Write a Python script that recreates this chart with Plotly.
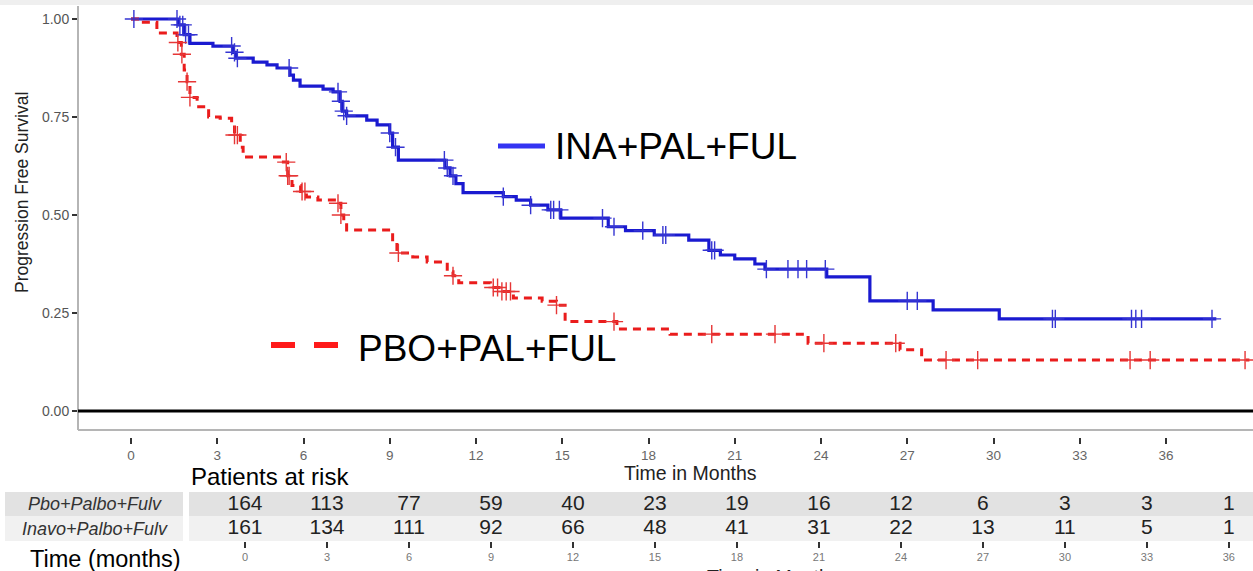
import numpy as np
import plotly.graph_objects as go

W, H = 1253, 571

# ---------------- data ----------------
ina_t = [0, 1.65, 1.85, 2.05, 2.85, 3.55, 3.65, 4.25, 4.73, 5.08, 5.53, 5.65, 5.88, 6.68, 7.03,
         7.27, 7.35, 7.5, 8.2, 8.56, 9.0, 9.1, 9.3, 10.92, 11.1, 11.3, 11.55, 12.95, 13.4, 13.9,
         14.5, 14.95, 16.6, 17.2, 18.2, 19.4, 20.1, 20.5, 21.0, 21.7, 22.05, 24.2, 25.7, 27.9,
         30.2, 37.75]
ina_s = [1.0, 0.985, 0.96, 0.938, 0.931, 0.915, 0.90, 0.89, 0.883, 0.875, 0.857, 0.844, 0.829,
         0.821, 0.814, 0.79, 0.765, 0.753, 0.742, 0.73, 0.709, 0.673, 0.64, 0.62, 0.60, 0.58,
         0.557, 0.547, 0.538, 0.525, 0.513, 0.492, 0.470, 0.46, 0.449, 0.436, 0.41, 0.398, 0.388,
         0.375, 0.362, 0.342, 0.281, 0.258, 0.235, 0.235]
ina_cens = [0.1, 1.6, 1.7, 1.8, 1.9, 2.0, 3.5, 3.6, 3.7, 5.5, 7.2, 7.3, 7.4, 7.5, 9.0, 9.2, 10.9,
            11.0, 11.2, 12.95, 13.9, 14.6, 14.7, 14.9, 16.4, 16.8, 17.8, 18.5, 18.6, 20.2, 20.3,
            22.1, 22.85, 23.2, 23.5, 24.15, 27.0, 27.35, 32.05, 32.15, 34.8, 34.95, 35.15, 37.6]

pbo_t = [0, 0.35, 0.9, 1.6, 1.75, 1.85, 1.95, 2.05, 2.3, 2.7, 3.1, 3.5, 3.6, 3.8, 3.9, 5.3, 5.45,
         5.6, 5.9, 6.1, 6.5, 7.2, 7.3, 7.4, 7.5, 9.1, 9.25, 9.8, 10.3, 11.0, 11.2, 11.4, 12.5,
         12.9, 13.3, 14.3, 14.8, 15.1, 16.9, 18.75, 23.55, 26.75, 27.5, 38.9]
pbo_s = [1.0, 0.992, 0.964, 0.94, 0.91, 0.87, 0.84, 0.80, 0.776, 0.75, 0.747, 0.73, 0.704, 0.673,
         0.648, 0.635, 0.60, 0.575, 0.56, 0.546, 0.538, 0.53, 0.50, 0.48, 0.462, 0.43, 0.403,
         0.393, 0.38, 0.355, 0.345, 0.327, 0.315, 0.305, 0.288, 0.28, 0.27, 0.228, 0.209, 0.196,
         0.173, 0.156, 0.13, 0.13]
pbo_cens = [1.63, 1.77, 1.95, 2.05, 3.6, 3.7, 5.4, 5.45, 5.5, 5.95, 6.05, 7.2, 7.3, 9.3, 11.2,
            12.6, 12.75, 12.9, 13.05, 13.2, 14.8, 16.8, 20.2, 22.4, 24.1, 26.6, 28.35, 29.45,
            34.75, 35.45, 38.75]

risk_times = [0, 3, 6, 9, 12, 15, 18, 21, 24, 27, 30, 33, 36]
risk_pbo = [164, 113, 77, 59, 40, 23, 19, 16, 12, 6, 3, 3, 1]
risk_ina = [161, 134, 111, 92, 66, 48, 41, 31, 22, 13, 11, 5, 1]
risk_labels = ["Pbo+Palbo+Fulv", "Inavo+Palbo+Fulv"]

x_ticks = list(range(0, 37, 3))
y_ticks = [0, 0.25, 0.5, 0.75, 1.0]
y_ticktext = ["0.00", "0.25", "0.50", "0.75", "1.00"]


def step_at(ts, ss, t):
    i = int(np.searchsorted(np.array(ts), t, side="right")) - 1
    return ss[max(i, 0)]


def px_x(p):
    return p / W


def px_y(p):
    return 1 - p / H


FONT = "Liberation Sans, Arial, sans-serif"
NARROW = "Liberation Sans Narrow, Arial Narrow, Liberation Sans, Arial, sans-serif"

BLUE = "#1a1ad0"
BLUE_C = "#3535d2"
RED = "#ea1c1c"
RED_C = "#e63636"

fig = go.Figure()

fig.add_trace(go.Scatter(x=ina_t, y=ina_s, mode="lines", line=dict(color=BLUE, width=3.2, shape="hv"),
                         showlegend=False, hoverinfo="skip"))
fig.add_trace(go.Scatter(x=pbo_t, y=pbo_s, mode="lines",
                         line=dict(color=RED, width=3, shape="hv", dash="8px,6px"),
                         showlegend=False, hoverinfo="skip"))
fig.add_trace(go.Scatter(x=ina_cens, y=[step_at(ina_t, ina_s, t) for t in ina_cens], mode="markers",
                         marker=dict(symbol="cross-thin-open", size=13, color=BLUE_C,
                                     line=dict(color=BLUE_C, width=1.4)),
                         showlegend=False, hoverinfo="skip"))
fig.add_trace(go.Scatter(x=pbo_cens, y=[step_at(pbo_t, pbo_s, t) for t in pbo_cens], mode="markers",
                         marker=dict(symbol="cross-thin-open", size=13, color=RED_C,
                                     line=dict(color=RED_C, width=1.4)),
                         showlegend=False, hoverinfo="skip"))

# risk table
fig.add_trace(go.Scatter(x=risk_times, y=[1.5] * len(risk_times), mode="text",
                         text=[str(v) for v in risk_pbo], textfont=dict(size=21, color="#222", family=FONT),
                         xaxis="x2", yaxis="y2", showlegend=False, hoverinfo="skip"))
fig.add_trace(go.Scatter(x=risk_times, y=[0.5] * len(risk_times), mode="text",
                         text=[str(v) for v in risk_ina], textfont=dict(size=21, color="#222", family=FONT),
                         xaxis="x2", yaxis="y2", showlegend=False, hoverinfo="skip"))

x_left, x_right = (78 - 131) / 28.75, (W - 131) / 28.75
y_top, y_bot = (411 - 5) / 392, (411 - 437) / 392

shapes = [
    dict(type="rect", xref="paper", yref="paper", x0=0, x1=1, y0=px_y(5), y1=1,
         fillcolor="#efefef", line=dict(width=0), layer="below"),
    dict(type="line", xref="paper", yref="paper", x0=px_x(78), x1=px_x(78), y0=px_y(430), y1=px_y(6),
         line=dict(color="#b5b5b5", width=2)),
    dict(type="line", xref="paper", yref="y", x0=px_x(78), x1=1, y0=(411 - 430) / 392, y1=(411 - 430) / 392,
         line=dict(color="#b5b5b5", width=2)),
    dict(type="line", xref="paper", yref="y", x0=px_x(78), x1=1, y0=0, y1=0,
         line=dict(color="#000", width=3)),
    dict(type="line", xref="paper", yref="paper", x0=px_x(498), x1=px_x(545), y0=px_y(146), y1=px_y(146),
         line=dict(color="#3434f2", width=5)),
    dict(type="line", xref="paper", yref="paper", x0=px_x(271), x1=px_x(295), y0=px_y(345), y1=px_y(345),
         line=dict(color="#ff1a1a", width=6)),
    dict(type="line", xref="paper", yref="paper", x0=px_x(314), x1=px_x(338), y0=px_y(345), y1=px_y(345),
         line=dict(color="#ff1a1a", width=6)),
    dict(type="rect", xref="paper", yref="y2", x0=px_x(5), x1=px_x(183), y0=1, y1=2,
         fillcolor="#e2e2e2", line=dict(width=0), layer="below"),
    dict(type="rect", xref="paper", yref="y2", x0=px_x(5), x1=px_x(183), y0=0, y1=1,
         fillcolor="#f1f1f1", line=dict(width=0), layer="below"),
    dict(type="rect", xref="paper", yref="y2", x0=px_x(189), x1=1, y0=1, y1=2,
         fillcolor="#e2e2e2", line=dict(width=0), layer="below"),
    dict(type="rect", xref="paper", yref="y2", x0=px_x(189), x1=1, y0=0, y1=1,
         fillcolor="#f1f1f1", line=dict(width=0), layer="below"),
]


def ann(text, x, y, size, color="#000", **kw):
    d = dict(text=text, xref="paper", yref="paper", x=x, y=y, showarrow=False,
             xanchor="center", yanchor="middle", font=dict(size=size, color=color, family=FONT))
    d.update(kw)
    return d


annotations = [
    ann("Progression Free Survival", px_x(22), px_y(193), 17.5, "#222", textangle=-90),
    ann("Time in Months", px_x(690), px_y(473), 19.5, "#222"),
    ann("INA+PAL+FUL", px_x(553), px_y(147), 37, xanchor="left"),
    ann("PBO+PAL+FUL", px_x(356), px_y(348), 37, xanchor="left"),
    ann("Patients at risk", px_x(270), px_y(476), 24),
    ann("Time (months)", px_x(105), px_y(559), 23.5),
    ann("<i>" + risk_labels[0] + "</i>", px_x(95), 1.5, 18, "#333", yref="y2"),
    ann("<i>" + risk_labels[1] + "</i>", px_x(95), 0.5, 18, "#333", yref="y2"),
    ann("Time in Months", px_x(773), px_y(564), 19.5, "#222", yanchor="top"),
]

fig.update_layout(
    width=W, height=H,
    margin=dict(l=0, r=0, t=0, b=0),
    paper_bgcolor="white", plot_bgcolor="white",
    showlegend=False,
    xaxis=dict(domain=[px_x(78), 1], range=[x_left, x_right], tickvals=x_ticks,
               ticks="outside", ticklen=6, tickwidth=2, tickcolor="#333",
               tickfont=dict(size=13.5, color="#666", family=NARROW),
               showgrid=False, zeroline=False, showline=False, anchor="y"),
    yaxis=dict(domain=[px_y(437), px_y(5)], range=[y_bot, y_top], tickvals=y_ticks, ticktext=y_ticktext,
               ticks="outside", ticklen=5, tickwidth=2, tickcolor="#333",
               tickfont=dict(size=14, color="#555", family=FONT),
               showgrid=False, zeroline=False, showline=False, anchor="x"),
    xaxis2=dict(domain=[0, 1], range=[(0 - 245) / 27.33, (W - 245) / 27.33], tickvals=risk_times,
                ticks="outside", ticklen=6, tickwidth=2, tickcolor="#333",
                tickfont=dict(size=11, color="#777", family=NARROW),
                showgrid=False, zeroline=False, showline=False, anchor="y2"),
    yaxis2=dict(domain=[px_y(541), px_y(492)], range=[0, 2], visible=False, anchor="x2"),
    shapes=shapes,
    annotations=annotations,
)

fig.write_html("out.html", config={"displayModeBar": False},
               post_script="document.body.style.margin='0';document.body.style.overflow='hidden';")
